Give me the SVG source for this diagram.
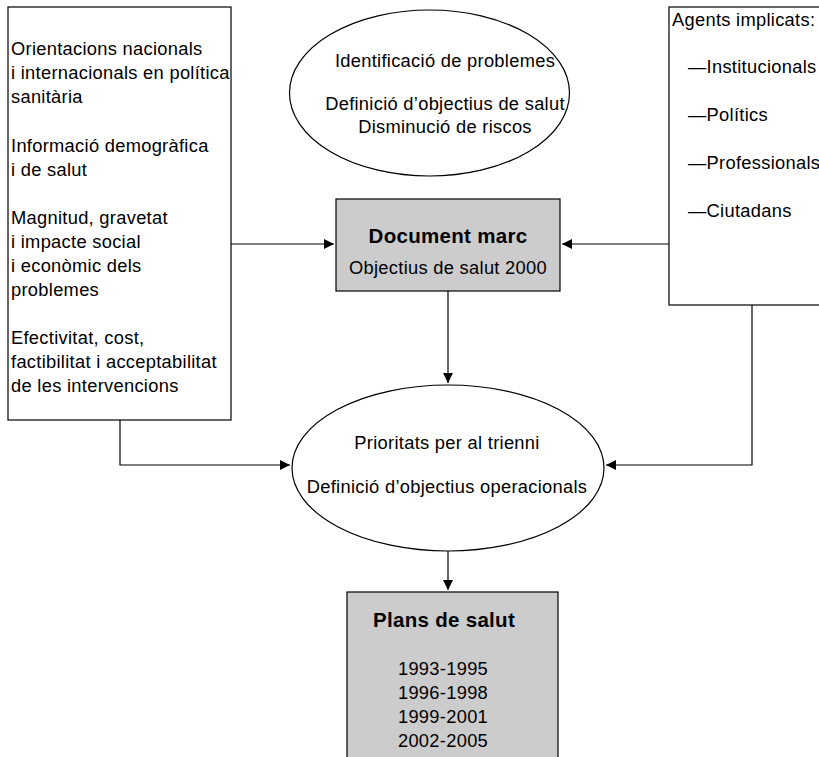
<svg xmlns="http://www.w3.org/2000/svg" width="819" height="757" viewBox="0 0 819 757">
<style>
.box{fill:#fff;stroke:#000;stroke-width:1.2}
.gray{fill:#cccccc;stroke:#000;stroke-width:1.2}
.t{font-family:"Liberation Sans",Arial,sans-serif;font-size:18.3px;letter-spacing:0.3px;fill:#000}
.c{text-anchor:middle}
.b{font-weight:bold;font-size:20.5px}
.ln{fill:none;stroke:#000;stroke-width:1.2}
</style>
<defs>
<marker id="ah" viewBox="0 0 10 10" refX="10" refY="5" markerWidth="16" markerHeight="10" markerUnits="userSpaceOnUse" orient="auto">
<path d="M0,0 L10,5 L0,10 z" fill="#000"/>
</marker>
</defs>
<g id="left">
<rect class="box" x="8" y="7" width="223" height="413"/>
<text class="t" x="11" y="55">Orientacions nacionals</text>
<text class="t" x="11" y="79">i internacionals en política</text>
<text class="t" x="11" y="103">sanitària</text>
<text class="t" x="11" y="152">Informació demogràfica</text>
<text class="t" x="11" y="176">i de salut</text>
<text class="t" x="11" y="224">Magnitud, gravetat</text>
<text class="t" x="11" y="248">i impacte social</text>
<text class="t" x="11" y="272">i econòmic dels</text>
<text class="t" x="11" y="296">problemes</text>
<text class="t" x="11" y="344">Efectivitat, cost,</text>
<text class="t" x="11" y="368">factibilitat i acceptabilitat</text>
<text class="t" x="11" y="392">de les intervencions</text>
</g>
<g id="right">
<rect class="box" x="669" y="7" width="160" height="298"/>
<text class="t" x="672" y="26">Agents implicats:</text>
<text class="t" x="688" y="73">—Institucionals</text>
<text class="t" x="688" y="121">—Polítics</text>
<text class="t" x="688" y="169">—Professionals</text>
<text class="t" x="688" y="217">—Ciutadans</text>
</g>
<g id="top">
<ellipse class="box" cx="429.5" cy="93" rx="140" ry="83"/>
<text class="t c" x="445" y="67">Identificació de problemes</text>
<text class="t c" x="445" y="110">Definició d’objectius de salut</text>
<text class="t c" x="445" y="133">Disminució de riscos</text>
</g>
<g id="doc">
<rect class="gray" x="336" y="199" width="224" height="92"/>
<text class="t c b" x="448" y="243">Document marc</text>
<text class="t c" x="448" y="274">Objectius de salut 2000</text>
</g>
<g id="prior">
<ellipse class="box" cx="448" cy="468" rx="156" ry="83"/>
<text class="t c" x="447" y="449">Prioritats per al trienni</text>
<text class="t c" x="447" y="493">Definició d’objectius operacionals</text>
</g>
<g id="plans">
<rect class="gray" x="347" y="592" width="211" height="175"/>
<text class="t c b" x="444" y="627">Plans de salut</text>
<text class="t c" x="443" y="675">1993-1995</text>
<text class="t c" x="443" y="699">1996-1998</text>
<text class="t c" x="443" y="723">1999-2001</text>
<text class="t c" x="443" y="747">2002-2005</text>
</g>
<g id="connectors">
<path class="ln" d="M231,244 H334" marker-end="url(#ah)"/>
<path class="ln" d="M669,244 H562" marker-end="url(#ah)"/>
<path class="ln" d="M448,291 V383" marker-end="url(#ah)"/>
<path class="ln" d="M120,420 V465 H290" marker-end="url(#ah)"/>
<path class="ln" d="M752,305 V465 H606" marker-end="url(#ah)"/>
<path class="ln" d="M448,551 V590" marker-end="url(#ah)"/>
</g>
</svg>
